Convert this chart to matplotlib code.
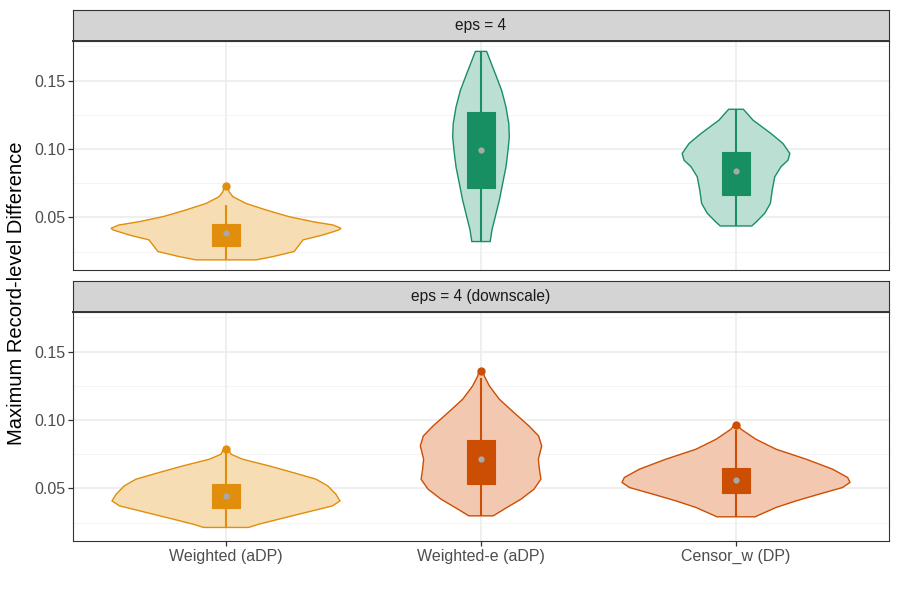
import matplotlib
matplotlib.use("Agg")
import matplotlib.pyplot as plt
from matplotlib.patches import Rectangle
import numpy as np

plt.rcParams['font.family'] = ['Liberation Sans', 'DejaVu Sans']

categories = ['Weighted (aDP)', 'Weighted-e (aDP)', 'Censor_w (DP)']
panels = ['eps = 4', 'eps = 4 (downscale)']

# violin outlines: y values and half widths (x units)
tl_y = [0.0190, 0.0214, 0.0251, 0.0287, 0.0336, 0.0372, 0.0409, 0.0421, 0.0445, 0.0469, 0.0506, 0.0555, 0.0603, 0.0652, 0.0688, 0.0730]
tl_w = [0.118, 0.184, 0.267, 0.282, 0.302, 0.380, 0.443, 0.451, 0.420, 0.341, 0.247, 0.157, 0.078, 0.027, 0.012, 0.008]
tm_y = [0.0324, 0.0409, 0.0506, 0.0627, 0.0749, 0.0870, 0.0992, 0.1089, 0.1186, 0.1307, 0.1429, 0.1551, 0.1714]
tm_w = [0.036, 0.043, 0.056, 0.072, 0.085, 0.098, 0.106, 0.111, 0.109, 0.098, 0.081, 0.056, 0.022]
tr_y = [0.0438, 0.0469, 0.0531, 0.0604, 0.0700, 0.0797, 0.0870, 0.0919, 0.0968, 0.1041, 0.1114, 0.1211, 0.1291]
tr_w = [0.062, 0.080, 0.113, 0.135, 0.142, 0.152, 0.176, 0.204, 0.211, 0.184, 0.137, 0.067, 0.029]
bl_y = [0.0215, 0.0239, 0.0276, 0.0325, 0.0373, 0.0409, 0.0458, 0.0519, 0.0568, 0.0617, 0.0665, 0.0714, 0.0750, 0.0792]
bl_w = [0.088, 0.129, 0.208, 0.314, 0.418, 0.447, 0.431, 0.399, 0.353, 0.262, 0.169, 0.065, 0.020, 0.008]
bm_y = [0.0300, 0.0349, 0.0422, 0.0495, 0.0568, 0.0641, 0.0714, 0.0811, 0.0884, 0.0957, 0.1055, 0.1152, 0.1249, 0.1322, 0.1358]
bm_w = [0.048, 0.091, 0.157, 0.208, 0.235, 0.229, 0.225, 0.238, 0.226, 0.188, 0.129, 0.072, 0.033, 0.013, 0.008]
br_y = [0.0293, 0.0318, 0.0361, 0.0409, 0.0458, 0.0507, 0.0544, 0.0580, 0.0641, 0.0714, 0.0787, 0.0860, 0.0933, 0.0962]
br_w = [0.075, 0.105, 0.157, 0.235, 0.325, 0.418, 0.447, 0.438, 0.379, 0.275, 0.157, 0.078, 0.020, 0.008]

# box stats: q1, median, q3, whisker low, whisker high
tl_box = [0.0292, 0.0384, 0.0453, 0.0190, 0.0591]
tm_box = [0.0717, 0.0992, 0.1271, 0.0324, 0.1714]
tr_box = [0.0664, 0.0839, 0.0980, 0.0438, 0.1291]
bl_box = [0.0354, 0.0446, 0.0536, 0.0215, 0.0765]
bm_box = [0.0536, 0.0719, 0.0855, 0.0300, 0.1310]
br_box = [0.0464, 0.0561, 0.0646, 0.0293, 0.0930]
tl_out = [0.0732]
tm_out = []
tr_out = []
bl_out = [0.0792]
bm_out = [0.1358]
br_out = [0.0962]

orange = ('#E08E0B', '#F7DDB3')
green = ('#178F63', '#BBE0D3')
red = ('#CC4E02', '#F2C8B1')

top = [(tl_y, tl_w, tl_box, tl_out, orange),
       (tm_y, tm_w, tm_box, tm_out, green),
       (tr_y, tr_w, tr_box, tr_out, green)]
bottom = [(bl_y, bl_w, bl_box, bl_out, orange),
          (bm_y, bm_w, bm_box, bm_out, red),
          (br_y, br_w, br_box, br_out, red)]

fig = plt.figure(figsize=(9, 6), dpi=100)
W, H = 900.0, 600.0
left, right = 73, 889
panel_pos = [(41, 270, 10), (312, 541, 281)]  # panel top, panel bottom, strip top (px)

for p, (rows, name) in enumerate(zip([top, bottom], panels)):
    ptop, pbot, stop = panel_pos[p]
    ax = fig.add_axes([left / W, 1 - pbot / H, (right - left) / W, (pbot - ptop) / H])
    ax.set_xlim(0.4, 3.6)
    ax.set_ylim(0.0116, 0.1790)
    ax.set_yticks([0.05, 0.10, 0.15])
    ax.set_yticks([0.025, 0.075, 0.125, 0.175], minor=True)
    ax.set_xticks([1, 2, 3])
    ax.grid(True, which='major', color='#EBEBEB', lw=1.1)
    ax.grid(True, which='minor', axis='y', color='#F2F2F2', lw=0.6)
    ax.set_axisbelow(True)
    for s in ax.spines.values():
        s.set_color('#333333')
        s.set_linewidth(0.8)
    ax.tick_params(axis='both', which='major', length=3.5, width=0.9, color='#333333',
                   labelcolor='#4D4D4D', labelsize=11.5, pad=2)
    ax.tick_params(which='minor', length=0)
    ax.set_yticklabels(['0.05', '0.10', '0.15'])
    if p == 0:
        ax.tick_params(axis='x', length=0, labelbottom=False)
    else:
        ax.set_xticklabels(categories)

    for i, (ys, ws, box, outs, (col, fill)) in enumerate(rows):
        x = i + 1
        ys = np.array(ys)
        ws = np.array(ws)
        px = np.concatenate([x + ws, (x - ws)[::-1]])
        py = np.concatenate([ys, ys[::-1]])
        ax.fill(px, py, facecolor=fill, edgecolor=col, lw=1.0, zorder=2)
        q1, med, q3, lo, hi = box
        ax.plot([x, x], [lo, hi], color=col, lw=1.5, zorder=3, solid_capstyle='butt')
        ax.add_patch(Rectangle((x - 0.053, q1), 0.106, q3 - q1, facecolor=col,
                               edgecolor=col, lw=0.8, zorder=4))
        ax.plot([x], [med], 'o', color='#A8A8A8', ms=4.5, mew=0, zorder=5)
        if outs:
            ax.plot([x] * len(outs), outs, 'o', color=col, ms=6, mew=0, zorder=5)

    sax = fig.add_axes([left / W, 1 - ptop / H, (right - left) / W, (ptop - stop) / H])
    sax.set_facecolor('#D4D4D4')
    sax.set_xticks([])
    sax.set_yticks([])
    for s in sax.spines.values():
        s.set_color('#333333')
        s.set_linewidth(0.8)
    sax.spines['bottom'].set_linewidth(1.4)
    sax.text(0.5, 0.5, name, ha='center', va='center', fontsize=11.2, color='#1A1A1A',
             transform=sax.transAxes)

fig.text(17 / W, 1 - 293 / H, 'Maximum Record-level Difference', rotation=90,
         ha='center', va='center', fontsize=14.5, color='black')

fig.savefig('out.png', dpi=100)
